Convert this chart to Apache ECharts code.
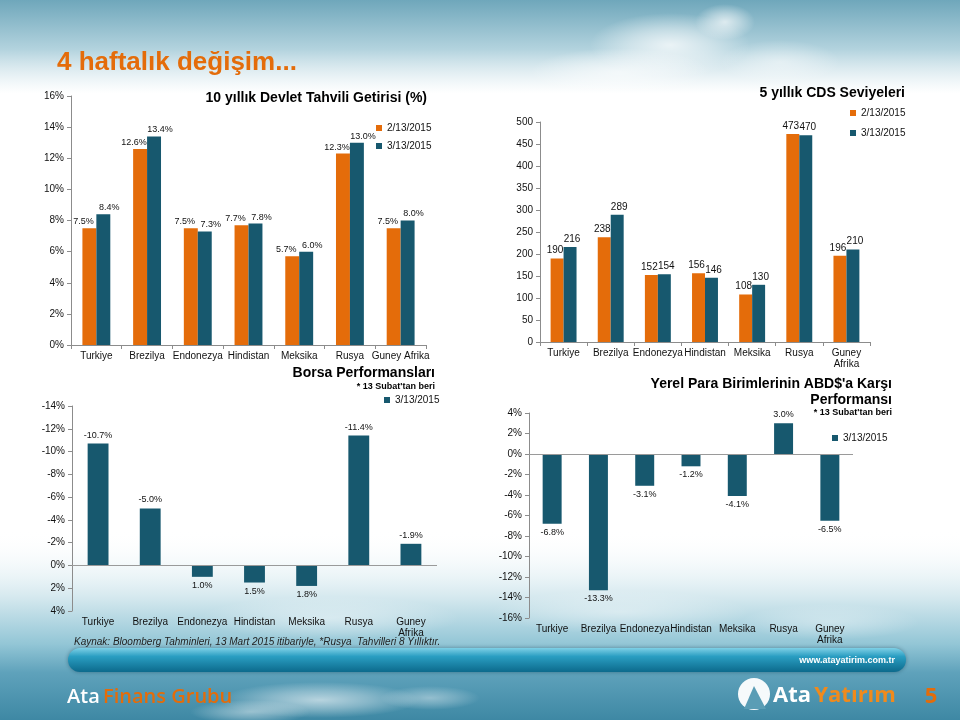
<!DOCTYPE html>
<html><head><meta charset="utf-8">
<script src="https://cdn.jsdelivr.net/npm/echarts@6/dist/echarts.min.js"></script>
<style>html,body{margin:0;padding:0;width:960px;height:720px;overflow:hidden;background:#fff}#c{width:960px;height:720px}</style>
</head><body><div id="c"></div><script>
// ---- data ----
const categories = ['Turkiye','Brezilya','Endonezya','Hindistan','Meksika','Rusya','Guney Afrika'];
const seriesNames = ['2/13/2015','3/13/2015'];
const bondFeb = [7.5,12.6,7.5,7.7,5.7,12.3,7.5];
const bondMar = [8.4,13.4,7.3,7.8,6.0,13.0,8.0];
const stockMar = [-10.7,-5.0,1.0,1.5,1.8,-11.4,-1.9];
const cdsFeb = [190,238,152,156,108,473,196];
const cdsMar = [216,289,154,146,130,470,210];
const fxMar = [-6.8,-13.3,-3.1,-1.2,-4.1,3.0,-6.5];
const titles = {
  page: '4 haftalık değişim...',
  bond: '10 yıllık Devlet Tahvili Getirisi (%)',
  stock: 'Borsa Performansları',
  cds: '5 yıllık CDS Seviyeleri',
  fx: "Yerel Para Birimlerinin ABD$'a Karşı\nPerformansı",
  since: "* 13 Subat'tan beri",
  source: 'Kaynak: Bloomberg Tahminleri, 13 Mart 2015 itibariyle, *Rusya  Tahvilleri 8 Yıllıktır.'
};

const ORANGE = '#E46C0A', TEAL = '#17586E';
const FONT = '"Liberation Sans", Arial, sans-serif';
const AX = '#8c8c8c';
const pct = v => v + '%';
const pct1 = p => p.value.toFixed(1) + '%';
const catFmt2 = v => v === 'Guney Afrika' ? 'Guney\nAfrika' : v;

function xAx(grid, fmt, showLine) {
  return {
    type: 'category', gridIndex: grid, data: categories, position: 'bottom',
    axisLine: { show: showLine, onZero: false, lineStyle: { color: AX } },
    axisTick: { show: showLine, length: 4, lineStyle: { color: AX } },
    axisLabel: { interval: 0, margin: 6, color: '#111', fontSize: 10, fontFamily: FONT, lineHeight: 11, formatter: fmt }
  };
}
function yAx(grid, min, max, interval, fmt, inverse) {
  return {
    type: 'value', gridIndex: grid, min, max, interval, inverse: !!inverse,
    axisLine: { show: true, lineStyle: { color: AX } },
    axisTick: { show: true, length: 4, lineStyle: { color: AX } },
    splitLine: { show: false },
    axisLabel: { margin: 7, color: '#111', fontSize: 10, fontFamily: FONT, formatter: fmt }
  };
}
const zeroLine = {
  silent: true, symbol: 'none', animation: false,
  lineStyle: { color: '#9a9a9a', type: 'solid', width: 1 },
  label: { show: false }, data: [{ yAxis: 0 }]
};
const lbl = (size, offset, dist) => ({
  show: true, position: 'top', distance: dist, offset, color: '#111', fontSize: size, fontFamily: FONT
});

function txt(text, x, y, opt) {
  return { type: 'text', z: 50, x, y, style: Object.assign({
    text, fill: '#000', fontFamily: FONT, fontSize: 14, fontWeight: 'bold',
    align: 'right', verticalAlign: 'middle'
  }, opt || {}) };
}
const LG = echarts.graphic.LinearGradient, RG = echarts.graphic.RadialGradient;
function cloud(cx, cy, rx, ry, a) {
  return { type: 'circle', z: -90, x: cx, y: cy, scaleX: rx / ry, shape: { cx: 0, cy: 0, r: ry },
    style: { fill: new RG(0.5, 0.5, 0.5, [{ offset: 0, color: 'rgba(255,255,255,' + a + ')' }, { offset: 0.5, color: 'rgba(255,255,255,' + (a * 0.55) + ')' }, { offset: 1, color: 'rgba(255,255,255,0)' }]) } };
}

const graphics = [
  { type: 'rect', z: -100, shape: { x: 0, y: 0, width: 960, height: 720 }, style: { fill: '#ffffff' } },
  { type: 'rect', z: -99, shape: { x: 0, y: 0, width: 960, height: 110 },
    style: { fill: new LG(0, 0, 0, 1, [{ offset: 0, color: '#6fa7bb' }, { offset: 0.45, color: '#b3d3de' }, { offset: 0.85, color: 'rgba(255,255,255,0.6)' }, { offset: 1, color: 'rgba(255,255,255,0)' }]) } },
  cloud(670, 45, 80, 32, 0.75), cloud(725, 22, 30, 18, 0.7), cloud(620, 72, 90, 24, 0.6), cloud(780, 62, 60, 22, 0.45),
  { type: 'rect', z: -98, shape: { x: 0, y: 530, width: 960, height: 190 },
    style: { fill: new LG(0, 0, 0, 1, [{ offset: 0, color: 'rgba(255,255,255,0)' }, { offset: 0.35, color: '#d6e9ef' }, { offset: 0.6, color: '#93c6d6' }, { offset: 0.75, color: '#5fa2bb' }, { offset: 1, color: '#3e88a4' }]) } },
  cloud(330, 618, 130, 22, 0.45), cloud(620, 612, 130, 22, 0.4), cloud(830, 622, 90, 18, 0.35),
  cloud(320, 700, 100, 18, 0.6), cloud(250, 712, 60, 12, 0.45), cloud(430, 698, 50, 12, 0.4),
  { type: 'rect', z: -80, shape: { x: 68, y: 648, width: 838, height: 24, r: 12 },
    style: { fill: new LG(0, 0, 0, 1, [{ offset: 0, color: '#7fd0e6' }, { offset: 0.35, color: '#2a9ec2' }, { offset: 1, color: '#0c6a8c' }]), shadowBlur: 4, shadowColor: 'rgba(0,40,60,0.4)' } },
  txt('www.atayatirim.com.tr', 895, 661, { fill: '#ffffff', fontSize: 9, fontWeight: 'bold' }),
  { type: 'text', z: 50, x: 67, y: 697, style: { text: '{a|Ata} {b|Finans Grubu}', verticalAlign: 'middle', align: 'left',
    rich: { a: { fill: '#ffffff', fontSize: 20, fontWeight: 600, fontFamily: '"Open Sans", sans-serif' }, b: { fill: ORANGE, fontSize: 20, fontWeight: 600, fontFamily: '"Open Sans", sans-serif' } } } },
  { type: 'circle', z: 40, shape: { cx: 754, cy: 694, r: 16 }, style: { fill: 'rgba(255,255,255,0.95)' } },
  { type: 'polygon', z: 41, shape: { points: [[744, 709], [754, 686], [766, 709]] }, style: { fill: '#5a9db5' } },
  { type: 'text', z: 50, x: 773, y: 696, style: { text: '{a|Ata} {b|Yatırım}', verticalAlign: 'middle', align: 'left',
    rich: { a: { fill: '#ffffff', fontSize: 22, fontWeight: 'bold', fontFamily: '"Open Sans", sans-serif' }, b: { fill: '#F08A1C', fontSize: 22, fontWeight: 'bold', fontFamily: '"Open Sans", sans-serif' } } } },
  txt('5', 931, 697, { fill: ORANGE, fontSize: 22, align: 'center', fontFamily: '"Open Sans", sans-serif' }),
  txt(titles.page, 57, 63, { fill: ORANGE, fontSize: 26, align: 'left' }),
  txt(titles.bond, 427, 98, { fontSize: 14 }),
  txt(titles.stock, 435, 373, { fontSize: 14 }),
  txt(titles.since, 435, 387, { fontSize: 9 }),
  txt(titles.cds, 905, 93, { fontSize: 14 }),
  txt(titles.fx, 892, 392, { fontSize: 14, lineHeight: 16 }),
  txt(titles.since, 892, 413, { fontSize: 9 }),
  txt(titles.source, 74, 642, { fontSize: 10, fontWeight: 'normal', fontStyle: 'italic', align: 'left', fill: '#222' })
];

const legendText = { fontSize: 10, fontFamily: FONT, color: '#111' };
const option = {
  animation: false,
  graphic: { elements: graphics },
  grid: [
    { left: 71, top: 96, width: 355, height: 249 },
    { left: 72, top: 406, width: 365, height: 205 },
    { left: 540, top: 122, width: 330, height: 220 },
    { left: 529, top: 413, width: 324, height: 205 }
  ],
  xAxis: [ xAx(0, null, true), xAx(1, catFmt2, false), xAx(2, catFmt2, true), xAx(3, catFmt2, false) ],
  yAxis: [ yAx(0, 0, 16, 2, pct), yAx(1, -14, 4, 2, pct, true), yAx(2, 0, 500, 50, null), yAx(3, -16, 4, 2, pct) ],
  legend: [
    { data: seriesNames, orient: 'vertical', left: 376, top: 123, padding: 0, itemWidth: 6, itemHeight: 6, itemGap: 8, icon: 'rect', textStyle: legendText },
    { data: [seriesNames[1]], left: 384, top: 395, padding: 0, itemWidth: 6, itemHeight: 6, icon: 'rect', textStyle: legendText },
    { data: seriesNames, orient: 'vertical', left: 850, top: 108, padding: 0, itemWidth: 6, itemHeight: 6, itemGap: 10, icon: 'rect', textStyle: legendText },
    { data: [seriesNames[1]], left: 832, top: 433, padding: 0, itemWidth: 6, itemHeight: 6, icon: 'rect', textStyle: legendText }
  ],
  series: [
    { type: 'bar', name: seriesNames[0], xAxisIndex: 0, yAxisIndex: 0, data: bondFeb, barGap: '0%', barCategoryGap: '45%',
      itemStyle: { color: ORANGE }, label: Object.assign(lbl(9, [-6, 0], 2), { formatter: pct1 }) },
    { type: 'bar', name: seriesNames[1], xAxisIndex: 0, yAxisIndex: 0, data: bondMar, barGap: '0%', barCategoryGap: '45%',
      itemStyle: { color: TEAL }, label: Object.assign(lbl(9, [6, 0], 2), { formatter: pct1 }) },
    { type: 'bar', name: seriesNames[1], xAxisIndex: 1, yAxisIndex: 1, barCategoryGap: '60%',
      data: stockMar.map(v => ({ value: v, label: { position: v < 0 ? 'top' : 'bottom' } })),
      itemStyle: { color: TEAL }, label: Object.assign(lbl(9, [0, 0], 4), { formatter: pct1 }), markLine: zeroLine },
    { type: 'bar', name: seriesNames[0], xAxisIndex: 2, yAxisIndex: 2, data: cdsFeb, barGap: '0%', barCategoryGap: '45%',
      itemStyle: { color: ORANGE }, label: lbl(10, [-2, 0], 3) },
    { type: 'bar', name: seriesNames[1], xAxisIndex: 2, yAxisIndex: 2, data: cdsMar, barGap: '0%', barCategoryGap: '45%',
      itemStyle: { color: TEAL }, label: lbl(10, [2, 0], 3) },
    { type: 'bar', name: seriesNames[1], xAxisIndex: 3, yAxisIndex: 3, barCategoryGap: '59%',
      data: fxMar.map(v => ({ value: v, label: { position: v < 0 ? 'bottom' : 'top' } })),
      itemStyle: { color: TEAL }, label: Object.assign(lbl(9, [0, 0], 4), { formatter: pct1 }), markLine: zeroLine }
  ]
};
const chart = echarts.init(document.getElementById('c'), null, { renderer: 'canvas' });
chart.setOption(option);
</script></body></html>
